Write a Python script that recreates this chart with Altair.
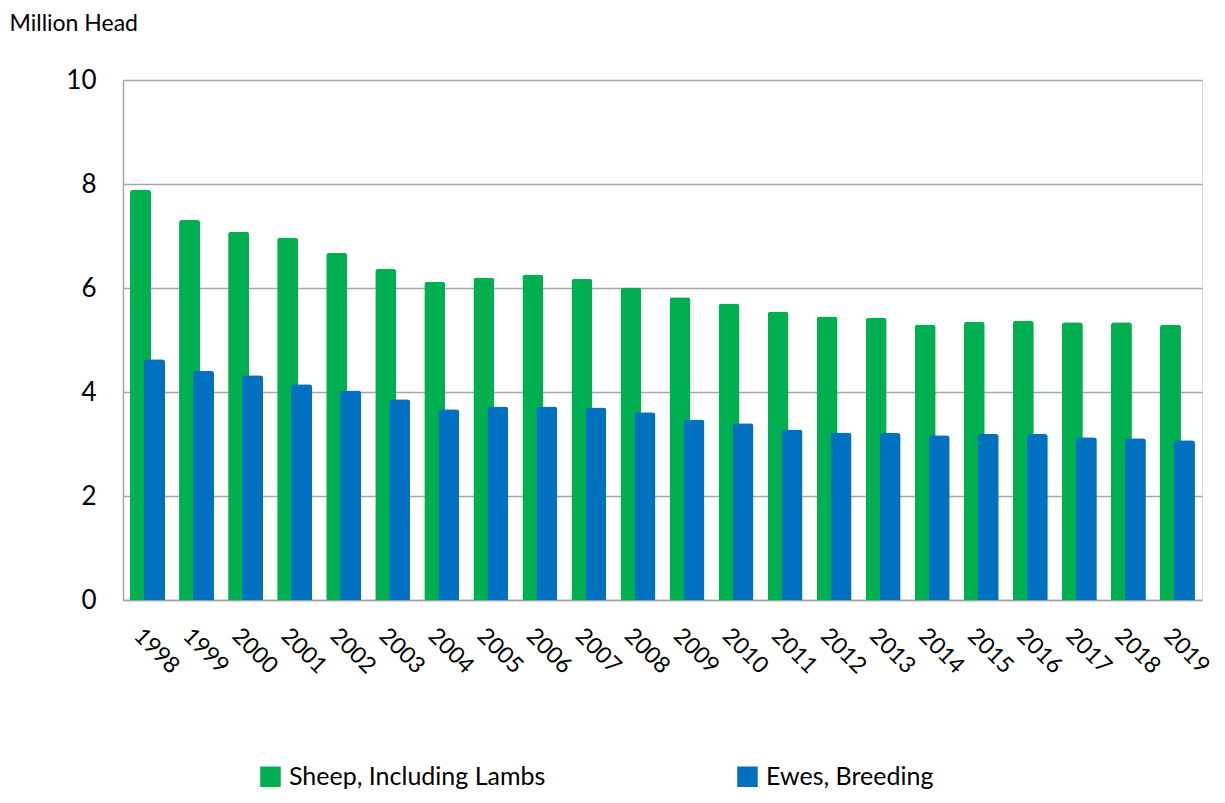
import altair as alt
import pandas as pd

years = [str(y) for y in range(1998, 2020)]
sheep = [7.89, 7.31, 7.08, 6.97, 6.68, 6.37, 6.12, 6.20, 6.26, 6.18, 6.01,
         5.82, 5.70, 5.55, 5.45, 5.43, 5.30, 5.35, 5.37, 5.34, 5.34, 5.30]
ewes = [4.63, 4.41, 4.32, 4.15, 4.03, 3.86, 3.67, 3.72, 3.72, 3.70, 3.61,
        3.47, 3.40, 3.28, 3.22, 3.21, 3.17, 3.19, 3.19, 3.13, 3.11, 3.07]
series_names = ["Sheep, Including Lambs", "Ewes, Breeding"]
series_colors = ["#00B050", "#0070C0"]

df = pd.DataFrame({
    "year": years * 2,
    "value": sheep + ewes,
    "series": [series_names[0]] * len(years) + [series_names[1]] * len(years),
})

FONT = "Lato"
LEFT = 115

x = alt.X("year:N", sort=years, title=None,
          scale=alt.Scale(paddingInner=0, paddingOuter=0),
          axis=alt.Axis(labelAngle=45, labelAlign="left", labelBaseline="top",
                        labelPadding=24, labelOffset=-2, labelFontSize=23, labelFont=FONT,
                        labelColor="#000000", ticks=False, domainColor="#a6a6a6",
                        domainWidth=1.5, grid=False, labelOverlap=False))
y = alt.Y("value:Q", title="Million Head",
          scale=alt.Scale(domain=[0, 10]),
          axis=alt.Axis(values=[0, 2, 4, 6, 8, 10], labelFontSize=26, labelFont=FONT,
                        labelColor="#000000", labelPadding=27, ticks=False,
                        domainColor="#a6a6a6", domainWidth=1.5,
                        gridColor="#a6a6a6", gridWidth=1.5,
                        titleAngle=0, titleAlign="left", titleBaseline="middle",
                        titleX=-(LEFT - 1), titleY=-57, titleFont=FONT, titleFontSize=23,
                        titleFontWeight="normal", titleColor="#000000"))
color = alt.Color("series:N",
                  scale=alt.Scale(domain=series_names, range=series_colors),
                  legend=alt.Legend(title=None, orient="none", direction="horizontal",
                                    legendX=258 - 8 - LEFT, legendY=684, padding=0,
                                    symbolType="square", symbolSize=420,
                                    symbolStrokeWidth=0, symbolOpacity=1,
                                    labelFont=FONT, labelFontSize=25, labelLimit=0,
                                    labelColor="#000000", labelOffset=6,
                                    columnPadding=189))

base = alt.Chart(df)
green = base.transform_filter(alt.datum.series == series_names[0]).mark_bar(
    width=21, xOffset=-7, cornerRadiusTopLeft=3, cornerRadiusTopRight=3
).encode(x=x, y=y, color=color)
blue = base.transform_filter(alt.datum.series == series_names[1]).mark_bar(
    width=21, xOffset=7, cornerRadiusTopLeft=3, cornerRadiusTopRight=3
).encode(x=x, y=y, color=color)

chart = alt.layer(green, blue).properties(
    width=1079, height=520, autosize="none",
    padding={"left": LEFT, "top": 72, "right": 14, "bottom": 195},
).configure_view(stroke=None).configure(background="#ffffff")

chart.save("out.html", embed_options={"renderer": "svg", "actions": False})
